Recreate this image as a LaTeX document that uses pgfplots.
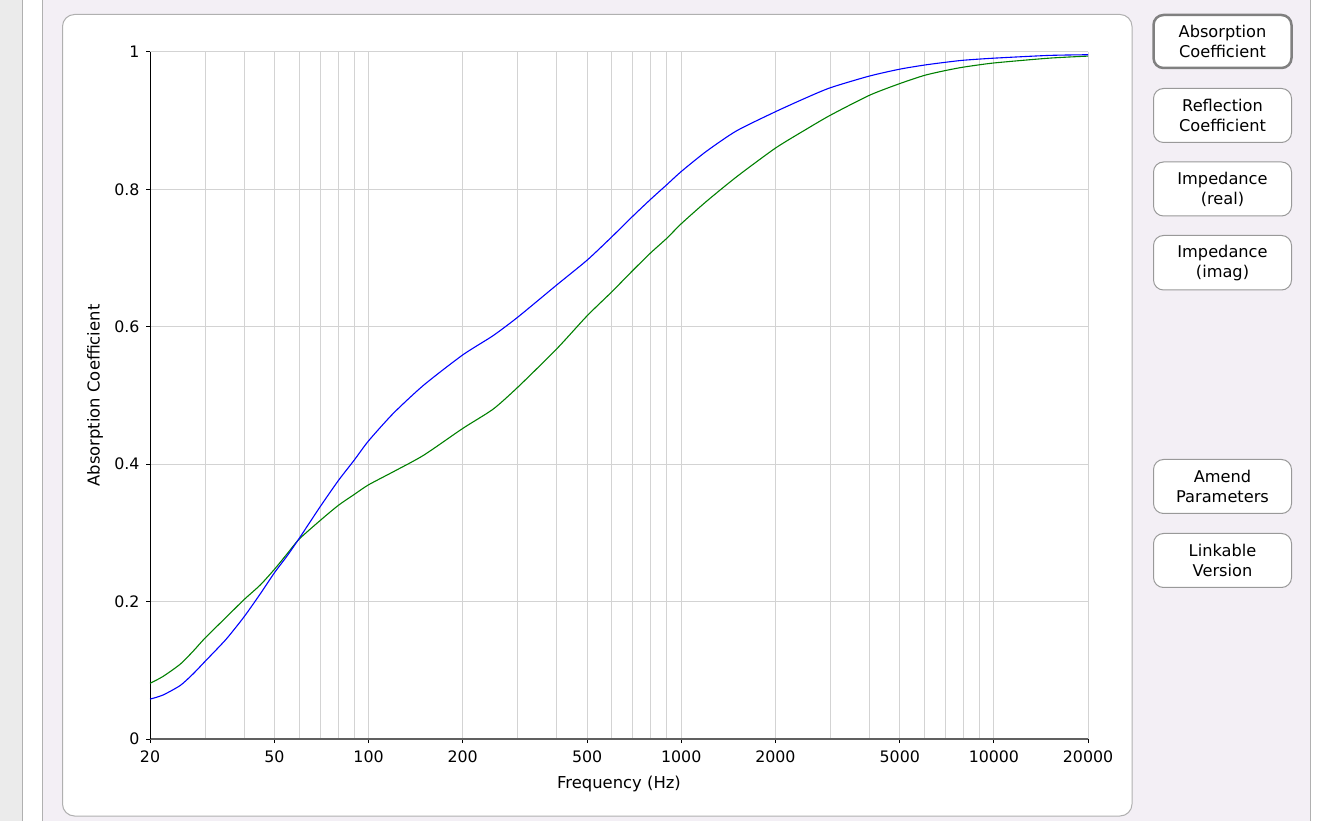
\documentclass[border=0pt]{standalone}
\usepackage{pgfplots}
\pgfplotsset{compat=1.18}
\usepackage{fontspec}
\setmainfont{DejaVu Sans}
\definecolor{lav}{HTML}{F3EFF5}
\definecolor{leftgray}{HTML}{EBEBEB}
\definecolor{edge}{HTML}{B0B0B0}
\definecolor{gridc}{HTML}{D3D3D3}
\definecolor{btnb}{HTML}{999999}
\definecolor{btnsel}{HTML}{808080}
\definecolor{cblue}{HTML}{0000FF}
\definecolor{cgreen}{HTML}{008000}
\definecolor{axgray}{HTML}{606060}
\begin{document}
\begin{tikzpicture}
\begin{scope}[x=1bp,y=1bp]
\useasboundingbox (0,0) rectangle (1329,821);
% page background
\fill[leftgray] (0,0) rectangle (22,821);
\fill[white] (23,0) rectangle (42,821);
\fill[lav] (43,0) rectangle (1310,821);
\fill[white] (1311,0) rectangle (1329,821);
\draw[edge, line width=1bp] (22.5,0) -- (22.5,821);
\draw[edge, line width=1bp] (42.5,0) -- (42.5,821);
\draw[edge, line width=1bp] (1310.5,0) -- (1310.5,821);
% panel
\draw[fill=white, draw=edge, line width=1bp, rounded corners=12bp] (62.5,5) rectangle (1132,806.5);
% buttons
\tikzset{btn/.style={fill=white, draw=btnb, line width=1bp, rounded corners=10bp},
         btntext/.style={align=center, font=\fontsize{16.2bp}{20bp}\selectfont, text=black, inner sep=0pt}}
\draw[btn, draw=btnsel, line width=2.5bp] (1153.5,821-68) rectangle (1291.5,821-15);
\node[btntext] at (1222.5,821-41.5) {Absorption\\Coefficient};
\draw[btn] (1153.5,821-142.5) rectangle (1291.5,821-88.5);
\node[btntext] at (1222.5,821-115.5) {Reflection\\Coefficient};
\draw[btn] (1153.5,821-216) rectangle (1291.5,821-162);
\node[btntext] at (1222.5,821-189) {Impedance\\(real)};
\draw[btn] (1153.5,821-290) rectangle (1291.5,821-235.5);
\node[btntext] at (1222.5,821-262.7) {Impedance\\(imag)};
\draw[btn] (1153.5,821-513.5) rectangle (1291.5,821-459.5);
\node[btntext] at (1222.5,821-486.5) {Amend\\Parameters};
\draw[btn] (1153.5,821-587.5) rectangle (1291.5,821-533.5);
\node[btntext] at (1222.5,821-560.5) {Linkable\\Version};
\end{scope}
\begin{axis}[at={(150bp,82bp)}, anchor=south west, scale only axis,
  width=938bp, height=687bp,
  xmode=log, xmin=20, xmax=20000, ymin=0, ymax=1,
  axis x line*=bottom, axis y line*=left,
  x axis line style={axgray, line width=2bp},
  y axis line style={black, line width=1bp},
  xtick={20,50,100,200,500,1000,2000,5000,10000,20000},
  xticklabels={20,50,100,200,500,1000,2000,5000,10000,20000},
  minor xtick={30,40,60,70,80,90,300,400,600,700,800,900,3000,4000,6000,7000,8000,9000},
  ytick={0,0.2,0.4,0.6,0.8,1},
  yticklabels={0,0.2,0.4,0.6,0.8,1},
  grid=both,
  major grid style={gridc, line width=1bp},
  minor grid style={gridc, line width=1bp},
  tick align=outside, major tick length=4bp, minor tick length=0pt,
  tick style={black, line width=1bp},
  tick label style={font=\fontsize{15.8bp}{19bp}\selectfont, text=black},
  xticklabel style={yshift=-4bp},
  yticklabel style={xshift=-3bp},
  /pgf/number format/assume math mode=true,
  label style={font=\fontsize{16.4bp}{19bp}\selectfont, text=black},
  xlabel={Frequency (Hz)},
  ylabel={Absorption Coefficient},
  xlabel style={at={(axis description cs:0.5,-0.0655)}, anchor=center},
  ylabel style={at={(axis description cs:-0.0586,0.5)}, anchor=center},
  clip=false,
]
\addplot[cgreen, line width=1.1bp, smooth, tension=0.4] coordinates {
(20,0.081) (22,0.091) (25,0.109) (27.5,0.128) (30,0.147) (35,0.177) (40,0.203)
(45,0.224) (50,0.247) (55,0.270) (60,0.291) (70,0.318) (80,0.340) (90,0.356)
(100,0.370) (120,0.389) (150,0.413) (200,0.452) (250,0.480) (300,0.512)
(400,0.568) (500,0.616) (600,0.651) (700,0.682) (800,0.708) (900,0.729)
(1000,0.750) (1200,0.782) (1500,0.818) (2000,0.860) (2500,0.887) (3000,0.908)
(4000,0.937) (5000,0.954) (6000,0.966) (7000,0.973) (8000,0.978) (10000,0.984)
(15000,0.991) (20000,0.994)};
\addplot[cblue, line width=1.1bp, smooth, tension=0.4] coordinates {
(20,0.058) (22,0.064) (25,0.078) (27.5,0.095) (30,0.113) (35,0.145) (40,0.178)
(45,0.211) (50,0.242) (55,0.267) (60,0.292) (70,0.338) (80,0.376) (90,0.406)
(100,0.434) (120,0.474) (150,0.515) (200,0.559) (250,0.587) (300,0.614)
(400,0.661) (500,0.697) (600,0.731) (700,0.761) (800,0.786) (900,0.807)
(1000,0.826) (1200,0.855) (1500,0.885) (2000,0.913) (2500,0.933) (3000,0.948)
(4000,0.965) (5000,0.975) (6000,0.981) (7000,0.985) (8000,0.988) (10000,0.991)
(15000,0.995) (20000,0.996)};
\end{axis}
\end{tikzpicture}
\end{document}
